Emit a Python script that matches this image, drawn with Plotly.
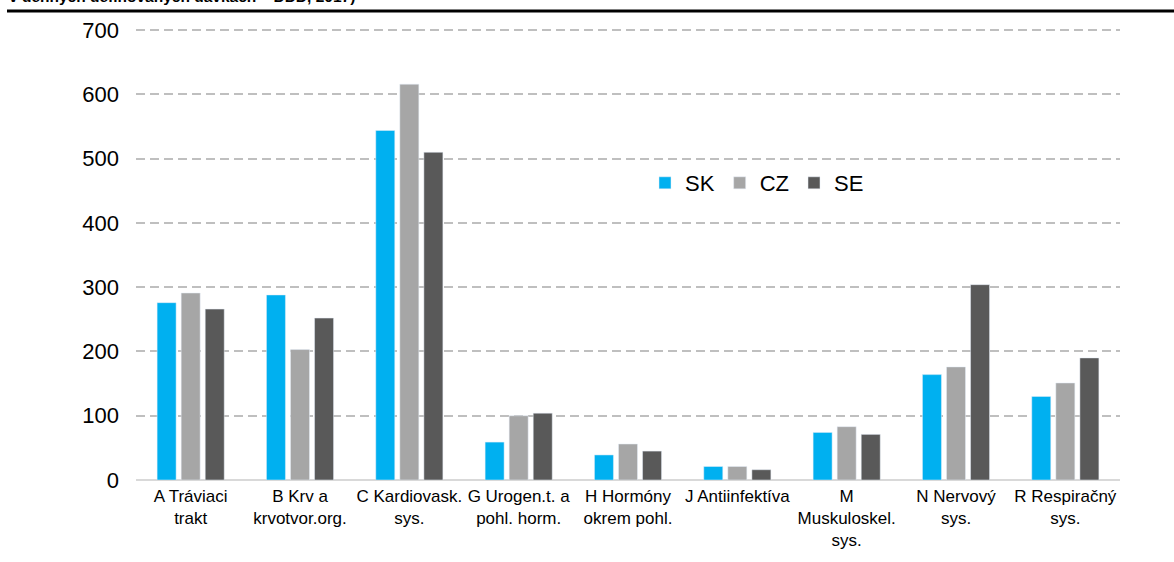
import plotly.graph_objects as go

# ATC skupiny liekov a spotreba v DDD
categories = [
    "A Tráviaci<br>trakt",
    "B Krv a<br>krvotvor.org.",
    "C Kardiovask.<br>sys.",
    "G Urogen.t. a<br>pohl. horm.",
    "H Hormóny<br>okrem pohl.",
    "J Antiinfektíva",
    "M<br>Muskuloskel.<br>sys.",
    "N Nervový<br>sys.",
    "R Respiračný<br>sys.",
]
sk_values = [276, 288, 544, 59, 39, 21, 74, 164, 130]
cz_values = [291, 203, 616, 100, 56, 21, 83, 176, 151]
se_values = [266, 252, 510, 104, 45, 16, 71, 304, 190]
y_ticks = [0, 100, 200, 300, 400, 500, 600, 700]

FONT = "Liberation Sans, Arial, sans-serif"

fig = go.Figure()
for name, vals, color in [
    ("SK", sk_values, "#00B0F0"),
    ("CZ", cz_values, "#A6A6A6"),
    ("SE", se_values, "#595959"),
]:
    fig.add_trace(go.Bar(name=name, x=categories, y=vals, marker=dict(color=color)))

W, H = 1174, 562
L, R, T, B = 136, 54, 27, 82
plot_w = W - L - R
plot_h = H - T - B


def px_x(p):
    return (p - L) / plot_w


def px_y(p):
    return (H - B - p) / plot_h


fig.update_layout(
    width=W,
    height=H,
    margin=dict(l=L, r=R, t=T, b=B),
    paper_bgcolor="white",
    plot_bgcolor="white",
    barmode="group",
    bargap=0.34,
    bargroupgap=0.21,
    font=dict(family=FONT, color="#000000"),
    legend=dict(
        orientation="h",
        x=px_x(645),
        y=px_y(183),
        xanchor="left",
        yanchor="middle",
        font=dict(size=22, family=FONT, color="#000000"),
        itemwidth=30,
        bgcolor="rgba(0,0,0,0)",
    ),
    xaxis=dict(
        showgrid=False,
        showline=False,
        tickangle=0,
        tickfont=dict(size=17, family=FONT, color="#000000"),
        ticks="",
        ticklabelstandoff=4,
    ),
    yaxis=dict(
        range=[0, 705],
        tickvals=y_ticks,
        showgrid=True,
        gridcolor="#BFBFBF",
        gridwidth=2,
        griddash="9px,5px",
        zeroline=True,
        zerolinecolor="#D9D9D9",
        zerolinewidth=2,
        showline=False,
        tickfont=dict(size=22, family=FONT, color="#000000"),
        ticklabelstandoff=16,
    ),
    shapes=[
        dict(
            type="line",
            xref="paper",
            yref="paper",
            x0=px_x(7),
            x1=px_x(W),
            y0=px_y(11),
            y1=px_y(11),
            line=dict(color="#000000", width=3),
        )
    ],
    annotations=[
        dict(
            text="<b>v denných definovaných dávkach – DDD, 2017)</b>",
            xref="paper",
            yref="paper",
            x=px_x(7),
            y=px_y(7),
            xanchor="left",
            yanchor="bottom",
            showarrow=False,
            font=dict(size=15.5, family=FONT, color="#000000"),
        )
    ],
)

fig.write_html("out.html")
